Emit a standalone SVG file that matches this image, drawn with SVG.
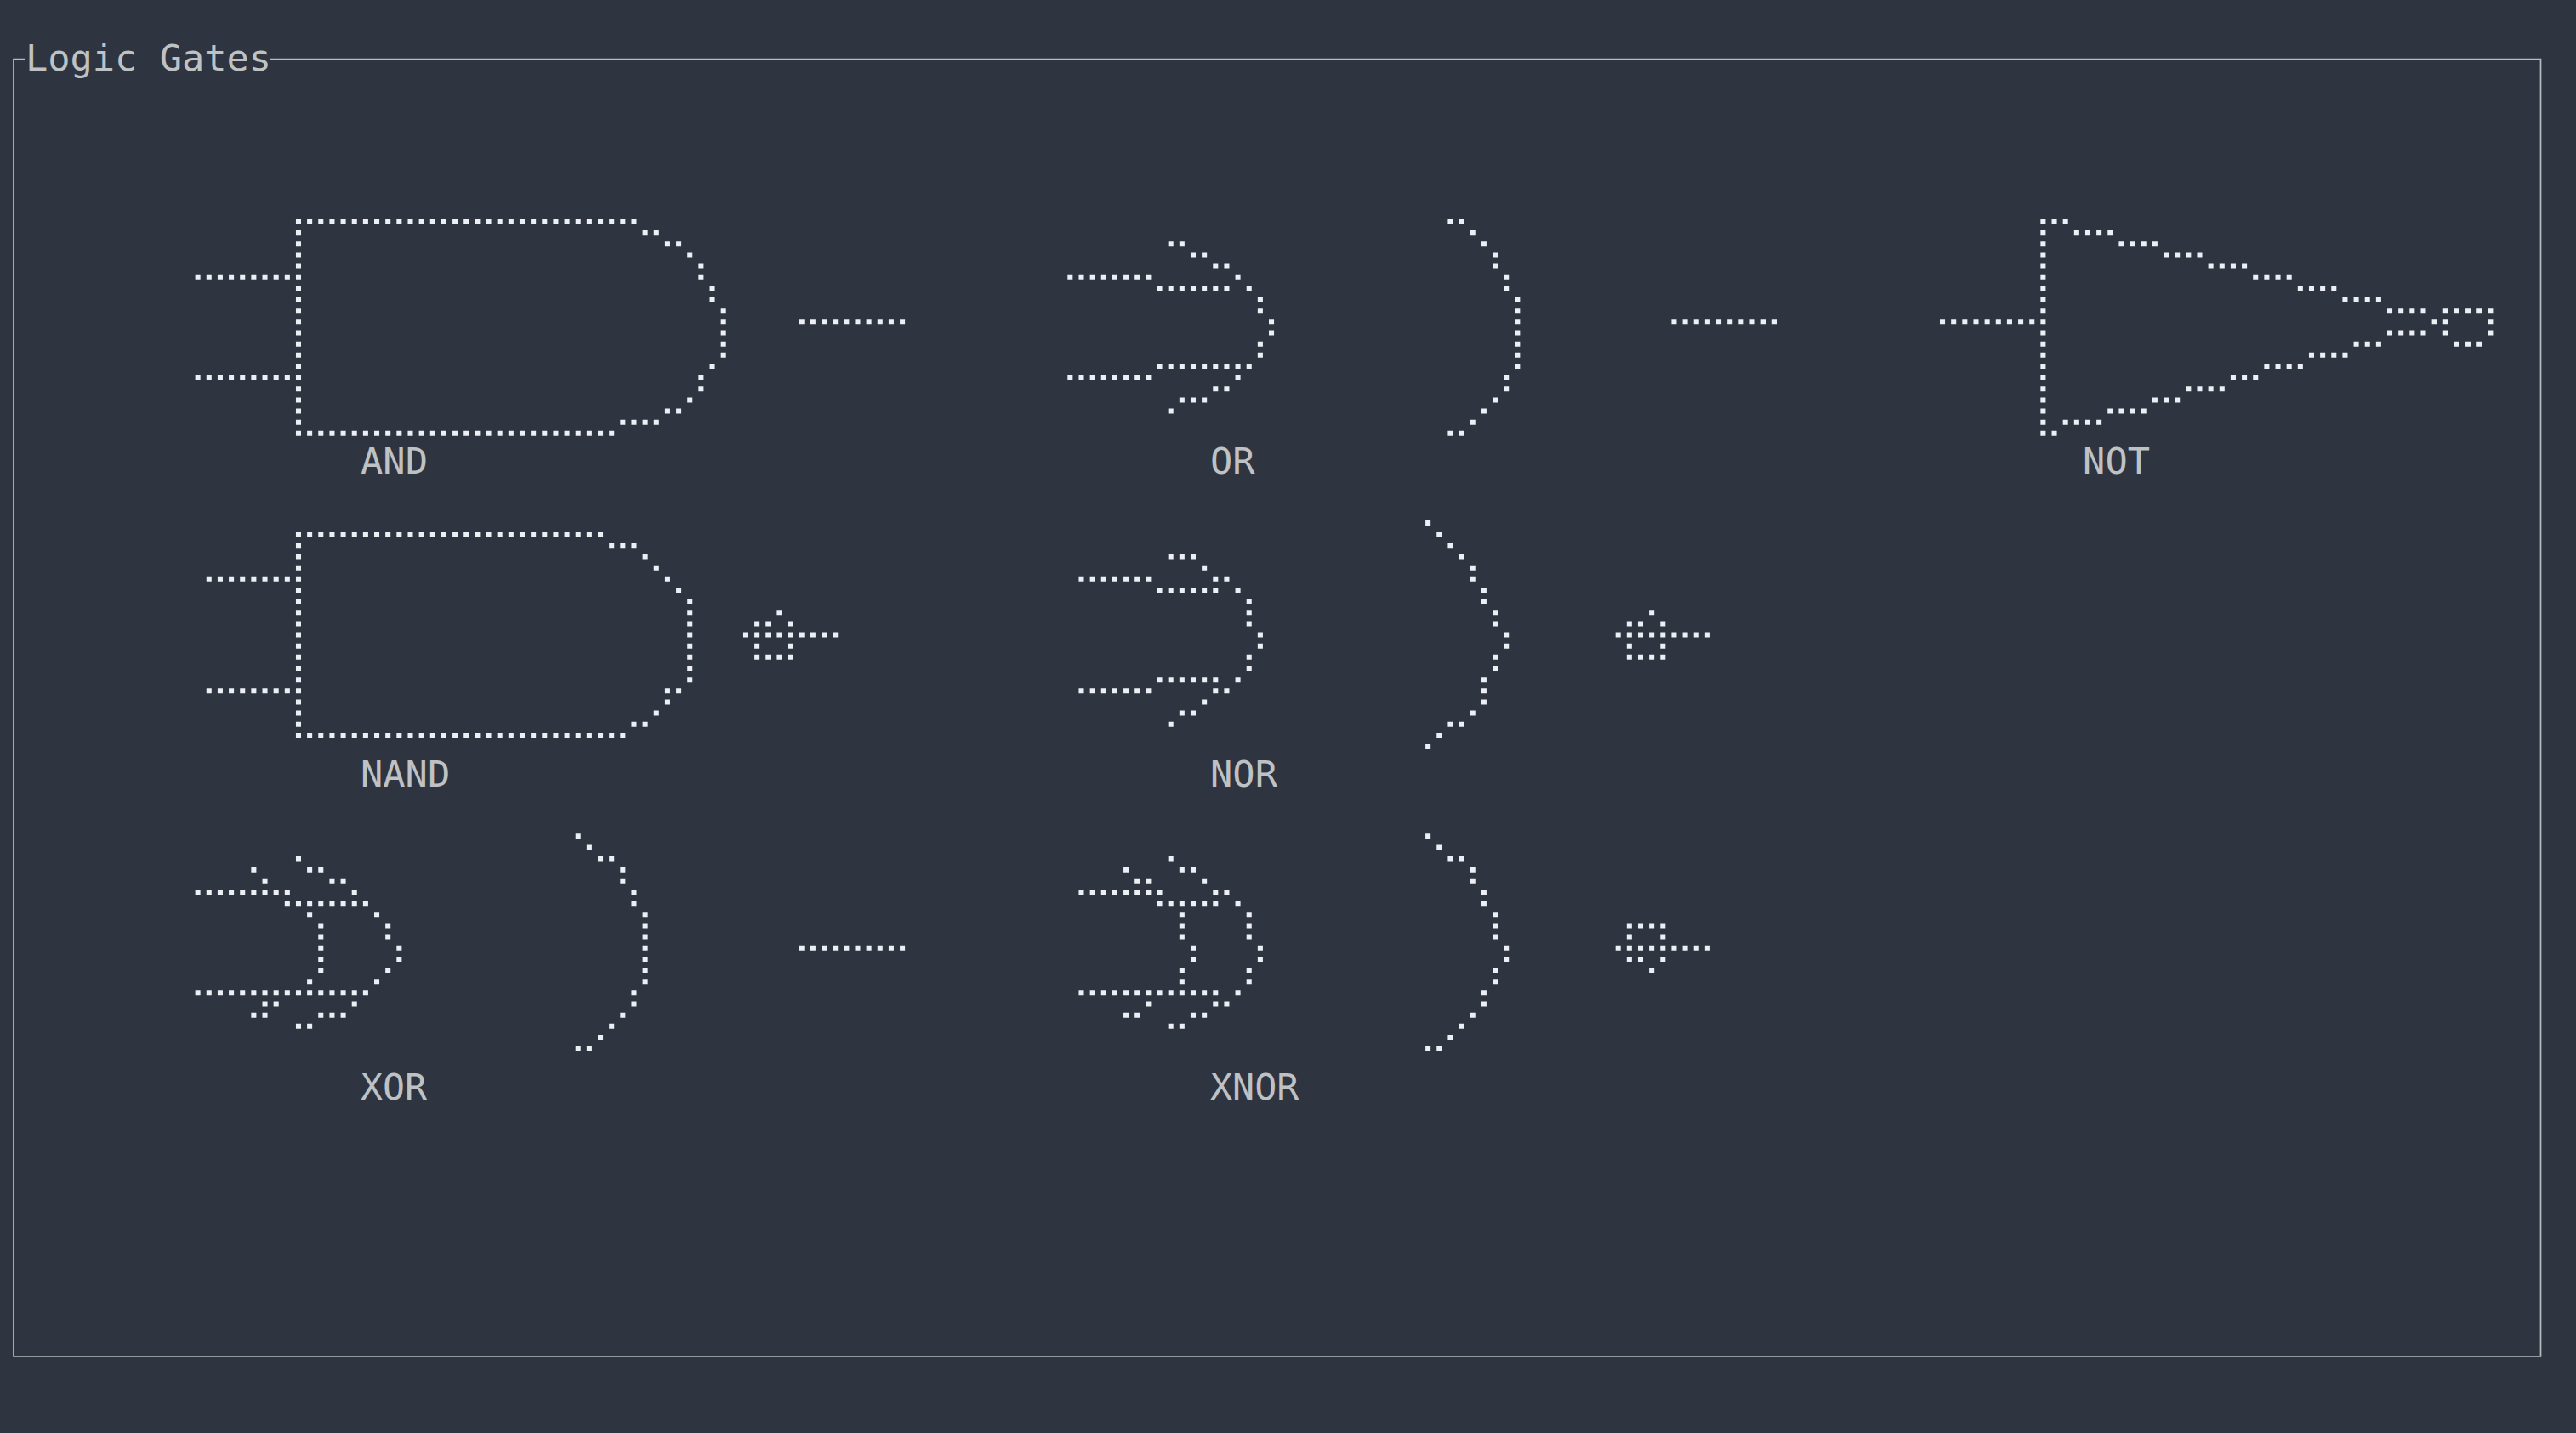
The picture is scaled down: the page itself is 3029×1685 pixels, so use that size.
<svg xmlns="http://www.w3.org/2000/svg" width="3029" height="1685" viewBox="0 0 3029 1685">
<style>
.d{fill:none;stroke:#eceff4;stroke-width:.46;stroke-dasharray:.46 .54;stroke-dashoffset:-.02}
.t{font-family:"DejaVu Sans Mono","Liberation Mono",monospace;font-size:42px;fill:#bfc2c4}
</style>
<rect width="3029" height="1685" fill="#2e3440"/>
<g id="frame">
<path d="M29 69.5H16V1595H2987.5V69.5H318" fill="none" stroke="#b9bcbe" stroke-width="1.7"/>
<text class="t" x="30" y="82.5" textLength="289" lengthAdjust="spacingAndGlyphs">Logic Gates</text>
</g>
<g id="connectors">
<path class="d" transform="translate(347.7,260) scale(13.15)" d="M-9 5h8.5M-9 14h8.5M45 9h9.5M69 5h7.5M69 14h7.5M123 9h9.5M147 9h8.5M-8 32h7.5M-8 42h7.5M45 37h3.5M70 32h6.5M70 42h6.5M123 37h3.5M-9 60h8.5M-9 69h15.5M45 65h9.5M70 60h7.5M70 69h12.5M123 65h3.5"/>
</g>
<g id="gate-and">
<path class="d" transform="translate(347.7,260) scale(13.15)" d="M.25 -.25v19.5M0 0h30.5M31 1h1.5M33 2h1.5M35 3h.5M36 4h.5M36 5h.5M37 6h.5M37 7h.5M38.25 7.75v4.5M37 13h.5M36 14h.5M36 15h.5M35 16h.5M33 17h1.5M29 18h3.5M0 19h28.5"/>
<text class="t" x="424" y="556.5" textLength="79" lengthAdjust="spacingAndGlyphs">AND</text>
</g>
<g id="gate-or">
<path class="d" transform="translate(347.7,260) scale(13.15)" d="M78 2h1.5M80 3h1.5M82 4h1.5M84 5h.5M77 6h6.5M85 6h.5M86.25 6.75v1.5M87.25 8.75v1.5M86.25 10.75v1.5M77 13h8.5M84 14h.5M82 15h1.5M79 16h2.5M78 17h.5"/>
<path class="d" transform="translate(347.7,260) scale(13.15)" d="M103 0h1.5M105 1h.5M106 2h.5M107.25 2.75v1.5M108.25 4.75v1.5M109.25 6.75v6.5M108.25 13.75v1.5M107 16h.5M106 17h.5M105 18h.5M103 19h1.5"/>
<text class="t" x="1423" y="556.5" textLength="52.6" lengthAdjust="spacingAndGlyphs">OR</text>
</g>
<g id="gate-not">
<path class="d" transform="translate(347.7,260) scale(13.15)" d="M156.25 -.25v19.5M156 0h2.5M159 1h3.5M163 2h3.5M167 3h3.5M171 4h3.5M175 5h3.5M179 6h3.5M183 7h3.5M187 8h3.5M191 9h.5M187 10h3.5M184 11h2.5M180 12h3.5M176 13h3.5M173 14h2.5M169 15h3.5M166 16h2.5M162 17h3.5M158 18h3.5M156 19h1.5M192 8h4.5M192 9h.5M196 9h.5M192 10h.5M196 10h.5M193 11h2.5"/>
<text class="t" x="2449.1" y="556.5" textLength="79" lengthAdjust="spacingAndGlyphs">NOT</text>
</g>
<g id="gate-nand">
<path class="d" transform="translate(347.7,260) scale(13.15)" d="M.25 27.75v18.5M0 28h27.5M28 29h2.5M31 30h.5M32 31h.5M33 32h.5M34 33h.5M35.25 33.75v7.5M33 42h1.5M33 43h.5M32 44h.5M30 45h1.5M0 46h29.5M43 35h.5M41 36h1.5M44 36h.5M40 37h4.5M41 38h.5M44 38h.5M41 39h3.5"/>
<text class="t" x="424" y="924.5" textLength="105.2" lengthAdjust="spacingAndGlyphs">NAND</text>
</g>
<g id="gate-nor">
<path class="d" transform="translate(347.7,260) scale(13.15)" d="M78 30h2.5M81 31h.5M82 32h1.5M77 33h5.5M84 33h.5M85.25 33.75v2.5M86.25 36.75v1.5M85.25 38.75v1.5M77 41h5.5M84 41h.5M82 42h1.5M81 43h.5M79 44h1.5M78 45h.5"/>
<path class="d" transform="translate(347.7,260) scale(13.15)" d="M101 27h.5M102 28h.5M103 29h.5M104 30h.5M105.25 30.75v1.5M106.25 32.75v1.5M107.25 34.75v1.5M108.25 36.75v1.5M107.25 38.75v1.5M106.25 40.75v2.5M105 44h.5M103 45h1.5M102 46h.5M101 47h.5M121 35h.5M119 36h1.5M122 36h.5M118 37h4.5M119 38h.5M122 38h.5M119 39h3.5"/>
<text class="t" x="1423" y="924.5" textLength="79" lengthAdjust="spacingAndGlyphs">NOR</text>
</g>
<g id="gate-xor">
<path class="d" transform="translate(347.7,260) scale(13.15)" d="M0 57h.5M-4 58h.5M1 58h1.5M-3 59h.5M3 59h1.5M5 60h.5M-1 61h7.5M1 62h.5M7 62h.5M2.25 62.75v4.5M8.25 62.75v1.5M9.25 64.75v1.5M8 67h.5M1 68h.5M7 68h.5M-3 70h1.5M5 70h.5M-4 71h1.5M2 71h2.5M0 72h1.5"/>
<path class="d" transform="translate(347.7,260) scale(13.15)" d="M25 55h.5M26 56h.5M27 57h1.5M29.25 57.75v1.5M30.25 59.75v1.5M31.25 61.75v6.5M30.25 68.75v1.5M29 71h.5M28 72h.5M27 73h.5M25 74h1.5"/>
<text class="t" x="424" y="1292.7" textLength="78" lengthAdjust="spacingAndGlyphs">XOR</text>
</g>
<g id="gate-xnor">
<path class="d" transform="translate(347.7,260) scale(13.15)" d="M78 57h.5M74 58h.5M79 58h1.5M75 59h1.5M81 59h.5M82 60h1.5M77 61h5.5M84 61h.5M79.25 61.75v2.5M85.25 61.75v2.5M80.25 64.75v1.5M86.25 64.75v1.5M79.25 66.75v1.5M85.25 66.75v1.5M84 69h.5M76 70h.5M82 70h1.5M74 71h1.5M80 71h1.5M78 72h1.5"/>
<path class="d" transform="translate(347.7,260) scale(13.15)" d="M101 55h.5M102 56h.5M103 57h1.5M105.25 57.75v1.5M106.25 59.75v1.5M107.25 61.75v2.5M108.25 64.75v1.5M107.25 66.75v1.5M106.25 68.75v1.5M105 71h.5M104 72h.5M103 73h.5M101 74h1.5M119 63h3.5M119 64h.5M122 64h.5M118 65h4.5M119 66h1.5M122 66h.5M121 67h.5"/>
<text class="t" x="1423" y="1292.7" textLength="104.5" lengthAdjust="spacingAndGlyphs">XNOR</text>
</g>
</svg>
